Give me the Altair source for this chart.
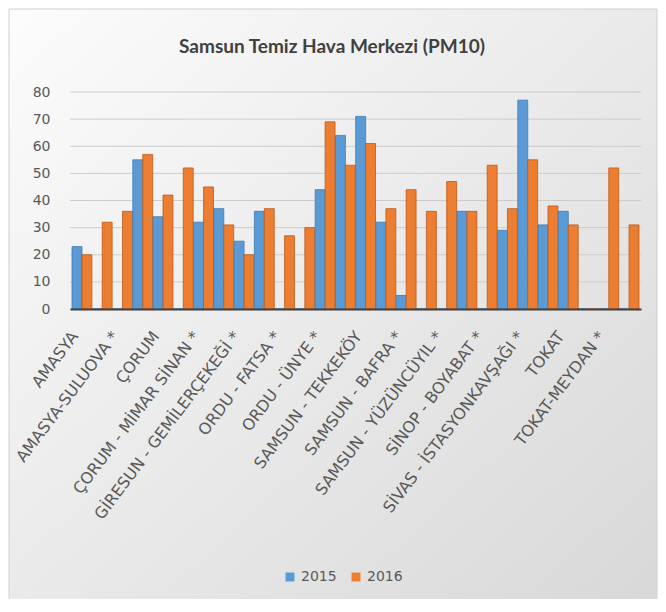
import altair as alt
import pandas as pd

stations = [
    "AMASYA", "AMASYA (2)", "AMASYA-SULUOVA *", "ÇORUM (1)", "ÇORUM", "ÇORUM (2)",
    "ÇORUM - MİMAR SİNAN *", "GİRESUN", "GİRESUN - GEMİLERÇEKEĞİ *", "ORDU",
    "ORDU - FATSA *", "ORDU (2)", "ORDU - ÜNYE *", "SAMSUN (1)", "SAMSUN - TEKKEKÖY",
    "SAMSUN (2)", "SAMSUN - BAFRA *", "SAMSUN (3)", "SAMSUN - YÜZÜNCÜYIL *", "SİNOP",
    "SİNOP - BOYABAT *", "SİVAS", "SİVAS - İSTASYONKAVŞAĞI *", "SİVAS (2)", "TOKAT",
    "TOKAT (2)", "TOKAT-MEYDAN *", "TOKAT (3)",
]
shown = stations[0::2]
v2015 = [23, 0, 0, 55, 34, 0, 32, 37, 25, 36, 0, 0, 44, 64, 71, 32, 5, 0, 0, 36,
         0, 29, 77, 31, 36, 0, 0, 0]
v2016 = [20, 32, 36, 57, 42, 52, 45, 31, 20, 37, 27, 30, 69, 53, 61, 37, 44, 36, 47, 36,
         53, 37, 55, 38, 31, 0, 52, 31]
years = ["2015", "2016"]
colors = ["#5B9BD5", "#ED7D31"]
y_ticks = list(range(0, 81, 10))
title_text = "Samsun Temiz Hava Merkezi (PM10)"

rows = []
for i, s in enumerate(stations):
    rows.append({"station": s, "year": "2015", "value": v2015[i]})
    rows.append({"station": s, "year": "2016", "value": v2016[i]})
df = pd.DataFrame(rows)

font = "Lato"
wfont = "DejaVu Sans"
yscale = alt.Scale(domain=[0, 80])
yaxis = alt.Axis(values=y_ticks, labelFontSize=14, labelColor="#595959",
                 labelFont=wfont, ticks=False, domain=False, grid=False,
                 labelPadding=20, labelOverlap=False, zindex=1)

bg = alt.Chart(alt.Data(values=[{"k": 1}])).mark_rect(
    clip=False,
    fill=alt.Gradient(gradient="linear", x1=0, y1=0, x2=1, y2=1,
                      stops=[alt.GradientStop(color="#fcfcfc", offset=0),
                             alt.GradientStop(color="#e8e8e8", offset=0.55),
                             alt.GradientStop(color="#d8d8d8", offset=1)]),
    stroke="#cfcfcf", strokeWidth=1,
).encode(x=alt.value(-61), x2=alt.value(587), y=alt.value(-83), y2=alt.value(510))

grid = alt.Chart(pd.DataFrame({"g": y_ticks})).mark_rule(
    color="#cccccc", strokeWidth=1
).encode(y=alt.Y("g:Q", scale=yscale, axis=yaxis, title=None))

bars = alt.Chart(df).mark_bar(strokeWidth=0.8).encode(
    x=alt.X("station:N", sort=stations, title=None,
            scale=alt.Scale(paddingInner=0.02, paddingOuter=0.1),
            axis=alt.Axis(values=shown, labelAngle=-53, labelFontSize=16,
                          labelColor="#595959", labelFont=wfont, ticks=False,
                          domainColor="#404040", domainWidth=2, labelPadding=24,
                          labelOffset=-7,
                          labelLimit=400, labelOverlap=False, zindex=1)),
    xOffset=alt.XOffset("year:N", sort=years),
    y=alt.Y("value:Q", title=None, scale=yscale, axis=yaxis),
    color=alt.Color("year:N", sort=years,
                    scale=alt.Scale(domain=years, range=colors),
                    legend=alt.Legend(orient="none", legendX=213, legendY=478,
                                      direction="horizontal", title=None,
                                      symbolType="square", symbolSize=80,
                                      labelFontSize=14, labelFont=wfont,
                                      labelColor="#595959", columnPadding=12,
                                      labelOffset=4,
                                      symbolStrokeWidth=0, zindex=1)),
    stroke=alt.Stroke("year:N", sort=years,
                      scale=alt.Scale(domain=years, range=["#3f78b0", "#b85a1c"]),
                      legend=None),
)

title = alt.Chart(alt.Data(values=[{"t": title_text}])).mark_text(
    font=font, fontSize=19, fontWeight="bold", color="#404040",
    align="center", baseline="middle", clip=False,
).encode(text="t:N", x=alt.value(262), y=alt.value(-45))

chart = alt.layer(bg, grid, bars, title).properties(
    width=571, height=217,
    autosize=alt.AutoSizeParams(type="none"),
    padding={"left": 62, "top": 84, "right": 17, "bottom": 290},
    background="#ffffff",
).configure_view(stroke=None)

chart.save("out.html", embed_options={"renderer": "svg", "actions": False})
